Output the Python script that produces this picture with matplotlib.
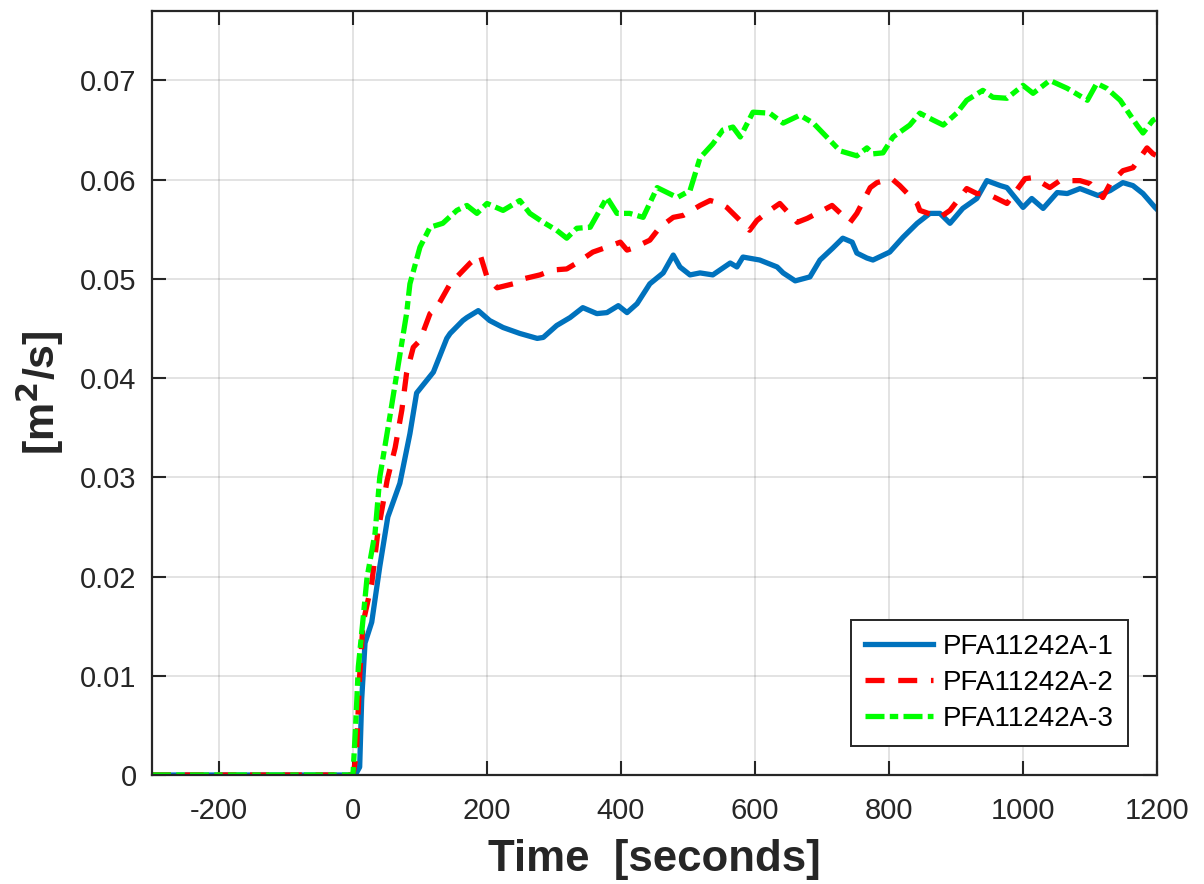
import matplotlib
matplotlib.use('Agg')
import matplotlib.pyplot as plt

# PFA11242A-1 (blue, solid)
t1 = [-300, 0, 5, 10, 13, 18, 28, 40, 52, 70, 85, 95, 120, 140, 145, 164, 170, 187, 204, 224,
      249, 275, 284, 304, 324, 343, 364, 379, 396, 409, 424, 443, 463, 478, 488, 503, 518, 537,
      563, 573, 582, 607, 633, 642, 660, 682, 697, 716, 731, 745, 752, 767, 776, 801, 821, 842,
      861, 876, 891, 910, 931, 946, 966, 976, 1000, 1013, 1030, 1051, 1066, 1085, 1112, 1130,
      1149, 1164, 1179, 1197, 1200]
y1 = [0, 0, 0.0002, 0.0008, 0.0076, 0.0133, 0.0154, 0.0210, 0.0260, 0.0294, 0.0344, 0.0385,
      0.0406, 0.0440, 0.0445, 0.0458, 0.0461, 0.0468, 0.0458, 0.0451, 0.0445, 0.0440, 0.0441,
      0.0453, 0.0461, 0.0471, 0.0465, 0.0466, 0.0473, 0.0466, 0.0475, 0.0495, 0.0506, 0.0524,
      0.0512, 0.0504, 0.0506, 0.0504, 0.0516, 0.0512, 0.0522, 0.0519, 0.0512, 0.0506, 0.0498,
      0.0502, 0.0519, 0.0531, 0.0541, 0.0537, 0.0526, 0.0521, 0.0519, 0.0527, 0.0542, 0.0556,
      0.0566, 0.0566, 0.0556, 0.0571, 0.0581, 0.0599, 0.0594, 0.0592, 0.0572, 0.0581, 0.0571,
      0.0587, 0.0586, 0.0591, 0.0584, 0.0589, 0.0597, 0.0594, 0.0586, 0.0572, 0.0570]

# PFA11242A-2 (red, dashed)
t2 = [-300, 0, 5, 10, 15, 28, 37, 51, 63, 73, 80, 90, 100, 115, 125, 145, 175, 190, 200, 215,
      239, 254, 279, 299, 319, 334, 358, 379, 399, 409, 418, 443, 458, 478, 493, 518, 533, 548,
      558, 573, 592, 603, 622, 637, 663, 678, 701, 715, 742, 752, 772, 782, 804, 816, 842, 846,
      876, 891, 916, 931, 946, 976, 1003, 1015, 1040, 1055, 1085, 1100, 1119, 1130, 1149, 1164,
      1185, 1194, 1200]
y2 = [0, 0, 0.0020, 0.0100, 0.0153, 0.0193, 0.0244, 0.0297, 0.0330, 0.0368, 0.0405, 0.0431,
      0.0438, 0.0465, 0.0471, 0.0495, 0.0516, 0.0524, 0.0502, 0.0491, 0.0495, 0.0500, 0.0504,
      0.0509, 0.0510, 0.0516, 0.0527, 0.0532, 0.0537, 0.0529, 0.0531, 0.0539, 0.0552, 0.0562,
      0.0564, 0.0574, 0.0579, 0.0576, 0.0572, 0.0562, 0.0549, 0.0559, 0.0569, 0.0576, 0.0557,
      0.0561, 0.0569, 0.0574, 0.0557, 0.0566, 0.0592, 0.0597, 0.0601, 0.0594, 0.0576, 0.0569,
      0.0562, 0.0569, 0.0591, 0.0586, 0.0586, 0.0576, 0.0601, 0.0602, 0.0592, 0.0599, 0.0599,
      0.0596, 0.0582, 0.0596, 0.0609, 0.0612, 0.0632, 0.0626, 0.0624]

# PFA11242A-3 (green, dash-dot)
t3 = [-300, 0, 4, 8, 13, 21, 33, 40, 55, 67, 80, 85, 100, 115, 134, 155, 170, 185, 200, 224,
      249, 264, 284, 304, 319, 334, 354, 379, 394, 413, 433, 454, 484, 503, 518, 537, 552, 567,
      578, 597, 622, 642, 667, 687, 707, 727, 752, 767, 776, 791, 806, 831, 846, 866, 881, 901,
      916, 940, 955, 976, 1000, 1015, 1040, 1066, 1096, 1110, 1125, 1145, 1170, 1179, 1194, 1200]
y3 = [0, 0, 0.0050, 0.0109, 0.0143, 0.0199, 0.0244, 0.0300, 0.0361, 0.0411, 0.0465, 0.0495,
      0.0532, 0.0552, 0.0556, 0.0569, 0.0574, 0.0566, 0.0576, 0.0569, 0.0579, 0.0566, 0.0557,
      0.0549, 0.0541, 0.0551, 0.0552, 0.0582, 0.0566, 0.0566, 0.0562, 0.0592, 0.0582, 0.0589,
      0.0622, 0.0636, 0.0650, 0.0653, 0.0643, 0.0668, 0.0667, 0.0657, 0.0665, 0.0657, 0.0643,
      0.0629, 0.0624, 0.0632, 0.0626, 0.0627, 0.0643, 0.0655, 0.0667, 0.0660, 0.0655, 0.0667,
      0.0680, 0.0690, 0.0683, 0.0682, 0.0695, 0.0687, 0.0700, 0.0692, 0.0680, 0.0697, 0.0692,
      0.0680, 0.0655, 0.0647, 0.0660, 0.0662]

labels = ['PFA11242A-1', 'PFA11242A-2', 'PFA11242A-3']
xticks = [-200, 0, 200, 400, 600, 800, 1000, 1200]
yticks = [0, 0.01, 0.02, 0.03, 0.04, 0.05, 0.06, 0.07]

plt.rcParams['font.family'] = ['Liberation Sans', 'DejaVu Sans']
plt.rcParams['axes.unicode_minus'] = False
dark = '#262626'

fig = plt.figure(figsize=(12.04, 8.84), dpi=100)
ax = fig.add_axes([0.1262, 0.1233, 0.8348, 0.8643])

ax.plot(t1, y1, color='#0072BD', lw=3.8, label=labels[0])
ax.plot(t2, y2, color='#FF0000', lw=3.8, dashes=(3.6, 2.6), label=labels[1])
ax.plot(t3, y3, color='#00FF00', lw=3.8, dashes=(3.6, 1.0, 1.6, 1.0), label=labels[2])

ax.set_xlim(-300, 1200)
ax.set_ylim(0, 0.077)
ax.set_xticks(xticks)
ax.set_yticks(yticks)
ax.set_yticklabels(['0'] + ['%.2f' % v for v in yticks[1:]])
ax.grid(True, color='#262626', alpha=0.15, lw=1.2)
ax.set_axisbelow(True)
ax.tick_params(direction='in', length=10, width=1.5, colors=dark, labelsize=21,
               top=True, right=True)
ax.tick_params(axis='x', pad=16)
ax.tick_params(axis='y', pad=11)
for s in ax.spines.values():
    s.set_color(dark)
    s.set_linewidth(1.6)

ax.set_xlabel('Time  [seconds]', fontsize=31.5, fontweight='bold', color=dark, labelpad=10)
ax.set_ylabel('[m$^\\mathbf{2}$/s]', fontsize=31, fontweight='bold', color=dark, labelpad=10)

leg = ax.legend(loc='lower right', fontsize=20, frameon=True, fancybox=False,
                borderaxespad=1.05, handlelength=2.45, labelspacing=0.36, borderpad=0.5,
                handletextpad=0.35)
leg.get_frame().set_edgecolor(dark)
leg.get_frame().set_linewidth(1.4)
leg.get_frame().set_alpha(1)
for txt in leg.get_texts():
    txt.set_color('black')

fig.savefig('out.png', dpi=100)
